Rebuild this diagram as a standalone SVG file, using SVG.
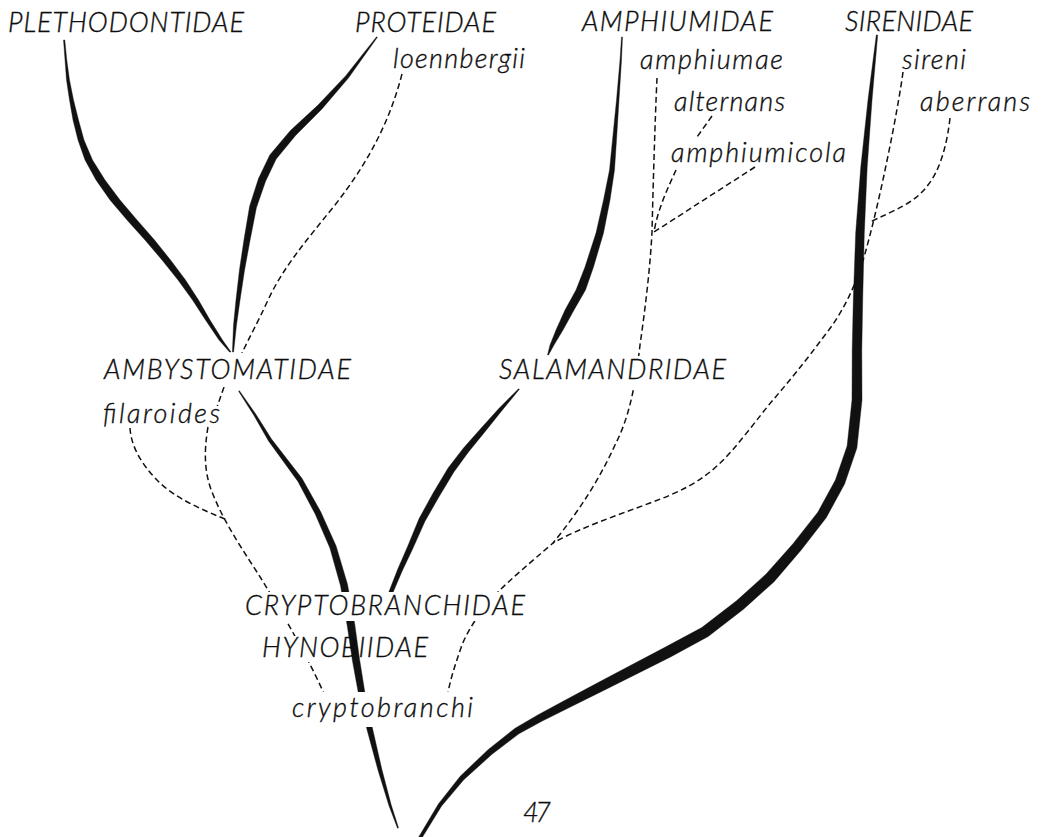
<svg xmlns="http://www.w3.org/2000/svg" width="1054" height="837" viewBox="0 0 1054 837">
<style>
.lbl { font-family: Lato, "Open Sans", "Liberation Sans", sans-serif; font-style: italic; font-weight: 300; font-size: 27px; fill: #0d0d0d; stroke: #0d0d0d; stroke-width: 0.35; }
.br { fill: #111; stroke: #111; stroke-width: 0.4; stroke-linejoin: round; }
.dash { fill: none; stroke: #111; stroke-width: 1.5; stroke-dasharray: 6 3.5; }
</style>
<defs>
<mask id="gaps" maskUnits="userSpaceOnUse" x="0" y="0" width="1054" height="837">
<rect x="0" y="0" width="1054" height="837" fill="#fff"/>
<rect x="100" y="353" width="260" height="34" fill="#000"/>
<rect x="495" y="356" width="240" height="32" fill="#000"/>
<rect x="100" y="406" width="126" height="20" fill="#000"/>
<rect x="240" y="592" width="292" height="29" fill="#000"/>
<rect x="258" y="636" width="82" height="26" fill="#000"/>
<rect x="288" y="692" width="192" height="35" fill="#000"/>
</mask>
</defs>
<rect x="0" y="0" width="1054" height="837" fill="#fff"/>
<g id="connectors" mask="url(#gaps)">
<path class="br" d="M63.5,40 L65,60 L66.5,80 L69.5,100 L73,120 L78,140 L85,160 L96,180 L110,200 L127,220 L145,240 L162,260 L178,280 L192.5,300 L205.5,320 L219,340 L229.5,352 L231,352 L222.5,340 L210,320 L198.5,300 L185.5,280 L170.5,260 L154.5,240 L137,220 L120,200 L105,180 L92.5,160 L84,140 L78.5,120 L73.5,100 L69.5,80 L66.8,60 L64.8,40 Z"/>
<path class="br" d="M377.4,37.3 L348.4,78.1 L322,108.9 L295.6,135.4 L276.2,159.1 L265.5,181.4 L256.4,207.8 L250,240.5 L244.5,270.4 L240,300.2 L236.5,325 L233.6,352 L232.4,352 L233.5,325 L236,299.8 L239.5,269.6 L244,239.5 L249.6,206.2 L258.5,178.6 L269.8,154.9 L290.4,130.6 L318,105.1 L345.6,75.9 L376.6,36.7 Z"/>
<path class="br" d="M621.5,37 L620,60 L616.5,100 L612.5,140 L609.5,170 L603.5,200 L596,233 L585,267 L576,290 L565,310 L556,330 L550,345 L547.5,355 L548.5,355 L554,345 L563,330 L574,310 L585.5,290 L593.5,267 L603.5,233 L610,200 L614.5,170 L616.5,140 L619,100 L621.5,60 L622.5,37 Z"/>
<path class="br" d="M877.7,35.1 L872,100.2 L867.2,167.2 L864.3,233.2 L862.7,300.1 L861.8,350 L862,400.2 L856.9,448 L844.6,484 L826.2,517.8 L801,550.3 L773.9,581.9 L743.5,609.2 L708.2,636.5 L670.6,656.9 L635.2,674.7 L600.2,692.2 L566.9,708.7 L541.8,721.3 L518.9,733.8 L492,754.3 L463.8,779.7 L441.6,806.1 L421.4,838.8 L418.6,837.2 L438.4,803.9 L460.2,776.3 L488,749.7 L515.1,728.2 L538.2,714.7 L563.1,701.3 L595.8,683.8 L630.8,665.3 L665.4,647.1 L701.8,627.5 L736.5,600.8 L766.1,574.1 L793,543.7 L817.8,512.2 L835.4,480 L847.1,446 L852,399.8 L852.2,350 L853.3,299.9 L855.7,232.8 L860.8,166.8 L868,99.8 L876.3,34.9 Z"/>
<path class="br" d="M239.4,390.7 L256,414.4 L271.5,439 L302.1,478.6 L320.7,511.7 L336.1,545.9 L347.5,584.2 L354.8,624.4 L359.6,659.4 L365.2,694.4 L372.7,729.3 L381.9,769.5 L391.1,804.6 L398.5,827.8 L397.5,828.2 L388.9,805.4 L378.1,770.5 L367.3,730.7 L358.8,695.6 L352.4,660.6 L347.2,625.6 L340.5,585.8 L329.9,548.1 L315.3,514.3 L297.9,481.4 L268.5,441 L254,415.6 L238.6,391.3 Z"/>
<path class="br" d="M519.4,389.3 L501.4,411.2 L485,431.7 L468.5,452 L453.9,472 L439,496.8 L424.9,521.4 L412.6,549.1 L402.2,570.9 L392.9,592.7 L387.4,604.5 L384.6,603.5 L389.1,591.3 L397.8,569.1 L407.4,546.9 L419.1,518.6 L433,493.2 L448.1,468 L463.5,448 L481,428.3 L498.6,408.8 L518.6,388.7 Z"/>
<path class="dash" d="M402,74 C390,120 370,160 335,205 C305,242 283,268 268,300 C258,322 249,338 242,353 M224,387 L217,407 M208,427 C204,450 204,472 212,492 C225,525 245,553 262,580 C285,618 310,660 328,703"/>
<path class="dash" d="M130,428 C131,445 140,462 155,478 C170,494 190,505 225,519"/>
<path class="dash" d="M657,78 C655,120 653,190 652,232 C650,270 645,310 640,345 C635,390 628,420 615,445 C600,478 580,510 553,543 C530,563 512,578 498,592 C485,606 470,625 462,645 C455,665 450,680 447,698"/>
<path class="dash" d="M712,116 L697,137"/>
<path class="dash" d="M676,170 C668,188 658,208 654,232"/>
<path class="dash" d="M755,167 L654,232"/>
<path class="dash" d="M903,72 C898,110 880,200 866,250 C858,280 845,310 825,335 C805,362 790,380 773,400 C760,415 735,450 718,465 C700,482 680,492 650,503 C615,516 580,528 553,543"/>
<path class="dash" d="M950,118 C947,145 940,170 928,185 C915,203 895,210 870,222"/>
</g>
<g id="n-plethodontidae"><text class="lbl" x="8" y="32" textLength="236">PLETHODONTIDAE</text></g>
<g id="n-proteidae"><text class="lbl" x="355" y="32" textLength="141">PROTEIDAE</text></g>
<g id="n-amphiumidae"><text class="lbl" x="582" y="31" textLength="191">AMPHIUMIDAE</text></g>
<g id="n-sirenidae"><text class="lbl" x="845" y="31" textLength="128">SIRENIDAE</text></g>
<g id="n-loennbergii"><text class="lbl" x="393" y="68" textLength="132">loennbergii</text></g>
<g id="n-amphiumae"><text class="lbl" x="640" y="69" textLength="143">amphiumae</text></g>
<g id="n-sireni"><text class="lbl" x="902" y="69" textLength="64">sireni</text></g>
<g id="n-alternans"><text class="lbl" x="674" y="111" textLength="111">alternans</text></g>
<g id="n-aberrans"><text class="lbl" x="920" y="111" textLength="110">aberrans</text></g>
<g id="n-amphiumicola"><text class="lbl" x="671" y="162" textLength="175">amphiumicola</text></g>
<g id="n-ambystomatidae"><text class="lbl" x="104" y="379" textLength="247">AMBYSTOMATIDAE</text></g>
<g id="n-salamandridae"><text class="lbl" x="499" y="379" textLength="227">SALAMANDRIDAE</text></g>
<g id="n-filaroides"><text class="lbl" x="103" y="423" textLength="117">filaroides</text></g>
<g id="n-cryptobranchidae"><text class="lbl" x="245" y="615" textLength="280">CRYPTOBRANCHIDAE</text></g>
<g id="n-hynobiidae"><text class="lbl" x="262" y="657" textLength="166">HYNOBIIDAE</text></g>
<g id="n-cryptobranchi"><text class="lbl" x="292" y="717" textLength="181">cryptobranchi</text></g>
<g id="n-page"><text class="lbl" x="523" y="822" textLength="28">47</text></g>
</svg>
